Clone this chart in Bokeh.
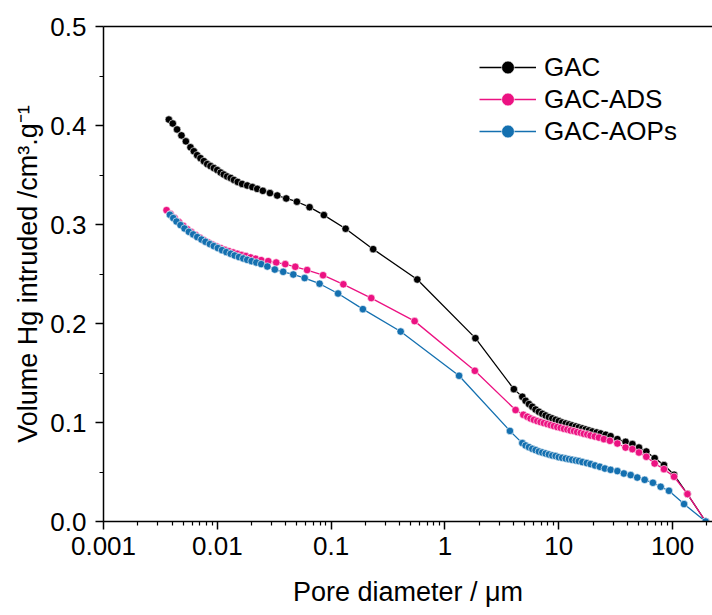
from bokeh.plotting import figure
from bokeh.models import (FixedTicker, PrintfTickFormatter, CustomJSTickFormatter,
                          LogAxis)
from bokeh.embed import file_html
from bokeh.resources import INLINE

# ---------------- data ----------------
gac_d = [0.00375, 0.00406, 0.00443, 0.00484, 0.00529, 0.00581, 0.00622, 0.00665, 0.00711, 0.00762,
         0.00815, 0.00871, 0.00932, 0.00998, 0.0107, 0.0114, 0.0122, 0.0131, 0.0140, 0.0151,
         0.0165, 0.0183, 0.0203, 0.0224, 0.0251, 0.0290, 0.0336, 0.0403, 0.0500, 0.0646,
         0.0863, 0.134, 0.234, 0.571, 1.85, 4.03, 4.78, 5.11, 5.47, 5.85,
         6.25, 6.69, 7.16, 7.66, 8.19, 8.77, 9.38, 10.0, 10.7, 11.5,
         12.3, 13.1, 14.1, 15.0, 16.1, 17.2, 18.4, 19.7, 21.5, 23.3,
         25.8, 28.5, 32.7, 38.6, 44.3, 50.6, 58.7, 69.5, 83.9, 103, 135, 195]
gac_v = [0.406, 0.402, 0.396, 0.390, 0.384, 0.378, 0.374, 0.370, 0.367, 0.364,
         0.361, 0.359, 0.357, 0.355, 0.3525, 0.3505, 0.3485, 0.347, 0.345, 0.343,
         0.341, 0.3394, 0.3378, 0.336, 0.334, 0.3317, 0.3293, 0.3263, 0.323, 0.3175,
         0.3095, 0.2957, 0.2751, 0.2444, 0.1852, 0.1337, 0.126, 0.1219, 0.1186, 0.1159,
         0.1131, 0.1108, 0.1088, 0.1071, 0.1054, 0.1041, 0.1027, 0.1014, 0.100, 0.099,
         0.098, 0.097, 0.096, 0.095, 0.094, 0.093, 0.092, 0.0909, 0.0899, 0.0889,
         0.0876, 0.0862, 0.0832, 0.0805, 0.0782, 0.0747, 0.0707, 0.064, 0.057, 0.0472, 0.0277, 0.0]

ads_d = [0.00358, 0.00388, 0.00421, 0.00459, 0.00501, 0.00544, 0.0059, 0.00643, 0.00702, 0.0076,
         0.00832, 0.00902, 0.00984, 0.0107, 0.0116, 0.0126, 0.0138, 0.0150, 0.0163, 0.0178,
         0.0196, 0.0217, 0.0243, 0.028, 0.0329, 0.0395, 0.0484, 0.0615, 0.0849, 0.128,
         0.225, 0.541, 1.83, 4.17, 4.88, 5.29, 5.65, 6.04, 6.47, 6.92,
         7.40, 7.93, 8.47, 9.06, 9.70, 10.4, 11.1, 11.9, 12.7, 13.6,
         14.5, 15.6, 16.6, 17.8, 19.0, 20.7, 22.5, 24.9, 28.1, 32.7,
         38.6, 44.3, 50.6, 58.7, 69.5, 83.9, 103, 135, 195]
ads_v = [0.3145, 0.3105, 0.3065, 0.3024, 0.2987, 0.2953, 0.2923, 0.2893, 0.2866, 0.2842,
         0.2818, 0.2798, 0.2778, 0.2761, 0.2744, 0.2731, 0.2717, 0.2704, 0.2691, 0.2681,
         0.2667, 0.2654, 0.264, 0.263, 0.2616, 0.260, 0.2573, 0.254, 0.2488, 0.2396,
         0.2257, 0.2024, 0.1522, 0.1126, 0.1078, 0.1058, 0.104, 0.1027, 0.1014, 0.1004,
         0.0994, 0.0984, 0.0974, 0.0964, 0.0954, 0.0946, 0.0936, 0.0929, 0.0919, 0.0913,
         0.0903, 0.0896, 0.0886, 0.0879, 0.0869, 0.0859, 0.0848, 0.0832, 0.0815, 0.0788,
         0.0747, 0.0731, 0.0697, 0.0654, 0.0586, 0.0529, 0.0452, 0.0277, 0.0]

aops_d = [0.00383, 0.0041, 0.00438, 0.00475, 0.00515, 0.00562, 0.00614, 0.00666, 0.00726, 0.00787,
          0.00859, 0.00931, 0.0101, 0.0110, 0.0120, 0.0131, 0.0142, 0.0155, 0.0169, 0.0183,
          0.0200, 0.0220, 0.0243, 0.0275, 0.0320, 0.0379, 0.0465, 0.0585, 0.0791, 0.115,
          0.190, 0.408, 1.33, 3.72, 4.78, 5.11, 5.47, 5.85, 6.25, 6.69,
          7.16, 7.66, 8.19, 8.77, 9.38, 10.0, 10.7, 11.5, 12.3, 13.1,
          14.1, 15.0, 16.1, 17.6, 19.0, 20.8, 22.9, 25.4, 28.5, 32.7,
          37.3, 42.8, 48.9, 56.8, 67.1, 78.5, 92.8, 126, 195]
aops_v = [0.3098, 0.3065, 0.303, 0.2994, 0.296, 0.2926, 0.290, 0.2873, 0.2848, 0.2825,
          0.2802, 0.2782, 0.2762, 0.2741, 0.2721, 0.2704, 0.2687, 0.2671, 0.2657, 0.2643,
          0.263, 0.2616, 0.260, 0.2576, 0.2545, 0.2522, 0.2495, 0.2459, 0.2402, 0.2303,
          0.2145, 0.1919, 0.1472, 0.0915, 0.0792, 0.0768, 0.0751, 0.0734, 0.0721, 0.0707,
          0.0697, 0.0687, 0.0677, 0.0667, 0.0661, 0.065, 0.0643, 0.0636, 0.063, 0.0623,
          0.0616, 0.061, 0.060, 0.059, 0.058, 0.0566, 0.0553, 0.0535, 0.0522, 0.0509,
          0.0485, 0.0469, 0.0444, 0.0421, 0.0391, 0.0351, 0.031, 0.0176, 0.0]

series_names = ["GAC", "GAC-ADS", "GAC-AOPs"]
series_colors = ["#000000", "#EC1282", "#1470B0"]

x_ticks = [0.001, 0.01, 0.1, 1, 10, 100]
x_tick_labels = ["0.001", "0.01", "0.1", "1", "10", "100"]
x_minor = [m * t for t in x_ticks for m in range(2, 10)]
y_ticks = [0.0, 0.1, 0.2, 0.3, 0.4, 0.5]
y_minor = [0.05, 0.15, 0.25, 0.35, 0.45]

FONT = "Liberation Sans"

p = figure(width=712, height=615, x_axis_type="log",
           x_range=(0.001, 224), y_range=(0, 0.5),
           output_backend="svg", toolbar_location=None,
           min_border_left=103, min_border_right=0,
           min_border_top=26, min_border_bottom=94)
p.outline_line_color = None
p.grid.visible = False
p.background_fill_color = "white"

for d, v, name, col in zip([gac_d, ads_d, aops_d], [gac_v, ads_v, aops_v],
                           series_names, series_colors):
    p.line(d, v, line_color=col, line_width=1.3, legend_label=name)
    p.scatter(d, v, size=7.5, fill_color=col, line_color="white", line_width=0.6,
              legend_label=name)

# axes styling
for ax in (p.xaxis[0], p.yaxis[0]):
    ax.axis_line_width = 1.5
    ax.major_tick_line_width = 1.5
    ax.minor_tick_line_width = 1.2
    ax.major_tick_in = 0
    ax.major_tick_out = 8
    ax.minor_tick_in = 0
    ax.minor_tick_out = 4
    ax.major_label_text_font = FONT
    ax.major_label_text_font_size = "26px"
    ax.major_label_text_color = "black"
    ax.axis_label_text_font = FONT
    ax.axis_label_text_font_size = "27px"
    ax.axis_label_text_font_style = "normal"
    ax.axis_label_text_color = "black"

p.xaxis.ticker = FixedTicker(ticks=x_ticks, minor_ticks=x_minor)
p.xaxis.formatter = CustomJSTickFormatter(
    args=dict(vals=x_ticks, labels=x_tick_labels),
    code="""
    for (let i = 0; i < vals.length; i++) {
        if (Math.abs(Math.log10(vals[i]) - Math.log10(tick)) < 1e-6) return labels[i];
    }
    return "";
    """)
p.xaxis.major_label_standoff = 7
p.xaxis.axis_label = "Pore diameter / μm"
p.xaxis.axis_label_standoff = 19

p.yaxis.ticker = FixedTicker(ticks=y_ticks, minor_ticks=y_minor)
p.yaxis.formatter = PrintfTickFormatter(format="%.1f")
p.yaxis.major_label_standoff = 9
p.yaxis.axis_label = "Volume Hg intruded /cm³.g⁻¹"
p.yaxis.axis_label_standoff = 4

# top border line as an empty axis
top = LogAxis(ticker=FixedTicker(ticks=[]), axis_line_width=1.5,
              major_tick_line_color=None, minor_tick_line_color=None,
              major_label_text_font_size="0px")
p.add_layout(top, "above")

leg = p.legend[0]
leg.location = (376, 374)
leg.background_fill_alpha = 0
leg.border_line_color = None
leg.padding = 0
leg.margin = 0
leg.spacing = 0
leg.glyph_width = 57
leg.glyph_height = 32
leg.label_height = 32
leg.label_standoff = 8
leg.label_text_font = FONT
leg.label_text_font_size = "26px"
leg.label_text_color = "black"

open("out.html", "w").write(file_html(p, INLINE))
